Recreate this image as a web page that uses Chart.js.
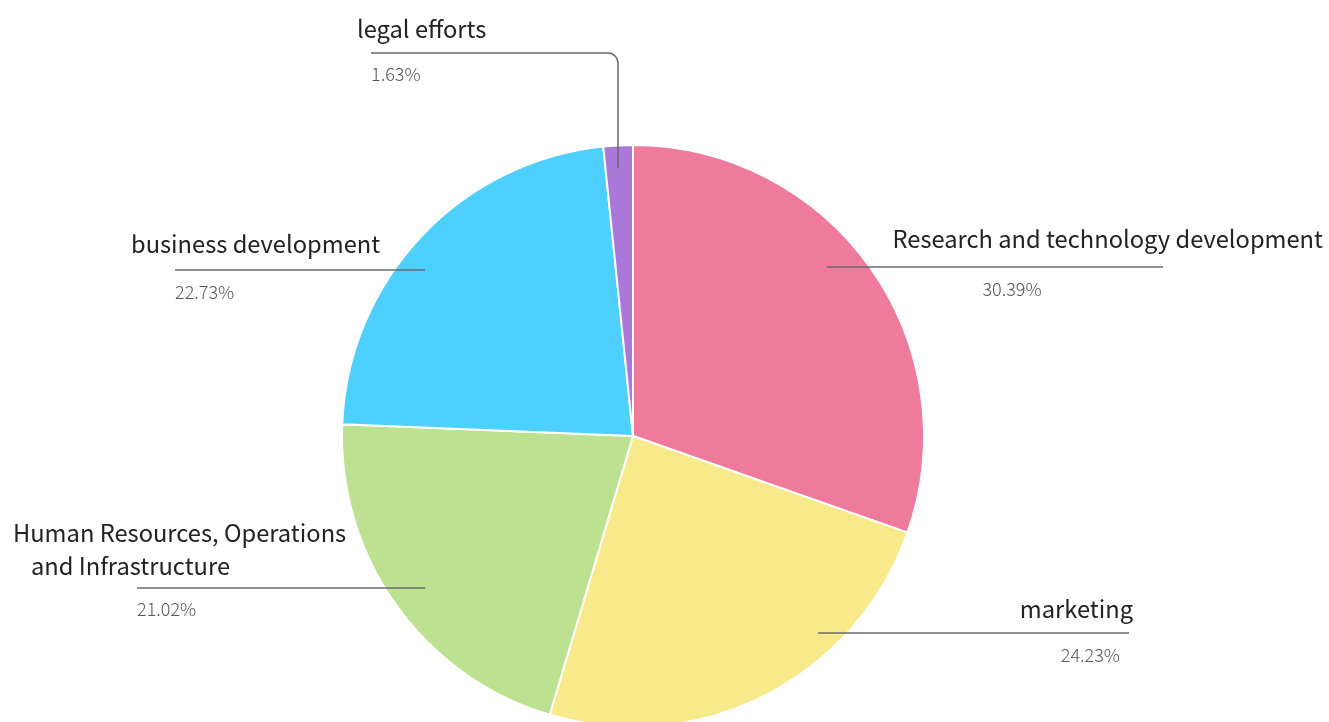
<!DOCTYPE html>
<html>
<head>
<meta charset="utf-8">
<script src="https://cdn.jsdelivr.net/npm/chart.js@4.4.1/dist/chart.umd.min.js"></script>
<style>
  html,body{margin:0;padding:0;background:#fff;overflow:hidden;}
  #clip{width:1329px;height:722px;overflow:hidden;}
  #wrap{width:1329px;height:728px;position:relative;}
</style>
</head>
<body>
<div id="clip"><div id="wrap"><canvas id="pie"></canvas></div></div>
<script>
'use strict';
/* pie: budget share */

const LABELS = ['Research and technology development','marketing','Human Resources, Operations and Infrastructure','business development','legal efforts'];
const VALUES = [30.39, 24.23, 21.02, 22.73, 1.63];
const COLORS = ['#ef7b9c','#f8e98a','#bce291','#4dd0fe','#aa78d9'];

/* ── label layout, offsets from pie centre ── */
const LAYOUT = [
  { title:['Research and technology development'], tx:690, ty:[-197], talign:'right',
    line:[[194,-169],[530,-169]], px:379, py:-147, palign:'center' },
  { title:['marketing'], tx:500, ty:[173], talign:'right',
    line:[[185,197],[496,197]], px:487, py:219, palign:'right' },
  { title:['Human Resources, Operations','and Infrastructure'], tx:[-620,-602], ty:[97,130], talign:'left',
    line:[[-208,152],[-496,152]], px:-496, py:173, palign:'left' },
  { title:['business development'], tx:-502, ty:[-192], talign:'left',
    line:[[-208,-166],[-458,-166]], px:-458, py:-144, palign:'left' },
  { title:['legal efforts'], tx:-276, ty:[-407], talign:'left',
    line:[[-15,-268],[-15,-383],[-262,-383]], px:-262, py:-362, palign:'left', corner:10 }
];

const FONT = '"Noto Sans CJK SC","Noto Sans",sans-serif';

const labelPlugin = {
  id:'sideLabels',
  afterDraw(chart){
    const ctx = chart.ctx;
    const arc = chart.getDatasetMeta(0).data[0];
    const cx = arc.x, cy = arc.y;
    ctx.save();
    LAYOUT.forEach((L, i) => {
      // leader line
      ctx.strokeStyle = '#6b6b6b';
      ctx.lineWidth = 1.5;
      ctx.beginPath();
      const p = L.line.map(q => [cx + q[0], cy + q[1]]);
      ctx.moveTo(p[0][0], p[0][1]);
      if (L.corner) {
        ctx.arcTo(p[1][0], p[1][1], p[2][0], p[2][1], L.corner);
        ctx.lineTo(p[2][0], p[2][1]);
      } else {
        ctx.lineTo(p[1][0], p[1][1]);
      }
      ctx.stroke();
      // title
      ctx.fillStyle = '#222';
      ctx.font = '400 23.7px ' + FONT;
      ctx.textAlign = L.talign;
      ctx.textBaseline = 'middle';
      L.title.forEach((t, j) => {
        const x = Array.isArray(L.tx) ? L.tx[j] : L.tx;
        ctx.fillText(t, cx + x, cy + L.ty[j]);
      });
      // percentage
      ctx.fillStyle = '#555';
      ctx.font = '300 18px ' + FONT;
      ctx.textAlign = L.palign;
      ctx.fillText(VALUES[i].toFixed(2) + '%', cx + L.px, cy + L.py);
    });
    ctx.restore();
  }
};

new Chart(document.getElementById('pie'), {
  type:'pie',
  data:{
    labels:LABELS,
    datasets:[{ data:VALUES, backgroundColor:COLORS, borderColor:'#fff', borderWidth:2, hoverOffset:0 }]
  },
  options:{
    responsive:true, maintainAspectRatio:false, animation:false,
    layout:{ padding:{ top:144, bottom:0, left:340, right:403 } },
    plugins:{ legend:{ display:false }, tooltip:{ enabled:false } }
  },
  plugins:[labelPlugin]
});
</script>
</body>
</html>
